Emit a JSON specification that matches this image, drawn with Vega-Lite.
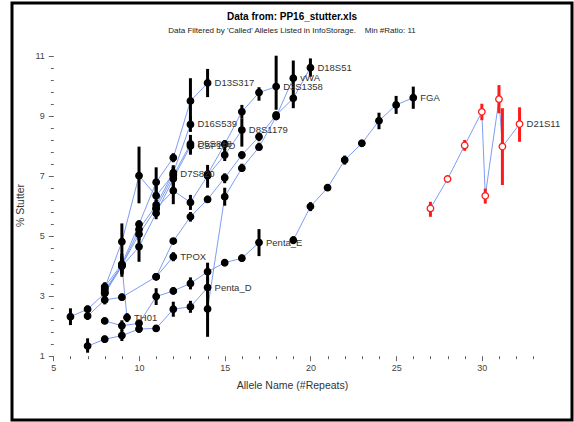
{
  "$schema": "https://vega.github.io/schema/vega-lite/v6.json",
  "width": 560,
  "height": 417,
  "autosize": {"type": "none"},
  "padding": {"left": 12, "top": 3, "right": 2, "bottom": 2},
  "background": "white",
  "config": {
    "view": {"stroke": "black", "strokeWidth": 3},
    "font": "Liberation Sans",
    "axis": {"labelFont": "Liberation Sans", "titleFont": "Liberation Sans"}
  },
  "title": {
    "text": "Data from: PP16_stutter.xls",
    "subtitle": "Data Filtered by 'Called' Alleles Listed in InfoStorage.\u00a0\u00a0\u00a0\u00a0Min #Ratio: 11",
    "fontSize": 10,
    "fontWeight": "bold",
    "color": "black",
    "subtitleFontSize": 8,
    "subtitleColor": "#222",
    "subtitlePadding": 5,
    "offset": -32,
    "anchor": "middle",
    "frame": "group"
  },
  "datasets": {
    "stutter": [
      {"l": "TH01", "a": 6, "s": 2.3, "lo": 2.02, "hi": 2.58},
      {"l": "TH01", "a": 7, "s": 2.55, "lo": 2.43, "hi": 2.67},
      {"l": "TH01", "a": 8, "s": 3.08, "lo": 2.98, "hi": 3.18},
      {"l": "TH01", "a": 9, "s": 4.02, "lo": 3.72, "hi": 4.32},
      {"l": "TH01", "a": 9.3, "s": 2.27, "lo": 2.12, "hi": 2.42},
      {"l": "TPOX", "a": 7, "s": 2.32, "lo": 2.2, "hi": 2.44},
      {"l": "TPOX", "a": 8, "s": 2.86, "lo": 2.71, "hi": 3.01},
      {"l": "TPOX", "a": 9, "s": 2.95, "lo": 2.83, "hi": 3.07},
      {"l": "TPOX", "a": 11, "s": 3.63, "lo": 3.63, "hi": 3.63},
      {"l": "TPOX", "a": 12, "s": 4.3, "lo": 4.15, "hi": 4.45},
      {"l": "Penta_D", "a": 7, "s": 1.32, "lo": 1.1, "hi": 1.58},
      {"l": "Penta_D", "a": 8, "s": 1.55, "lo": 1.43, "hi": 1.67},
      {"l": "Penta_D", "a": 9, "s": 1.67, "lo": 1.49, "hi": 1.85},
      {"l": "Penta_D", "a": 10, "s": 1.89, "lo": 1.76, "hi": 2.02},
      {"l": "Penta_D", "a": 11, "s": 1.91, "lo": 1.81, "hi": 2.01},
      {"l": "Penta_D", "a": 12, "s": 2.55, "lo": 2.3, "hi": 2.8},
      {"l": "Penta_D", "a": 13, "s": 2.63, "lo": 2.43, "hi": 2.83},
      {"l": "Penta_D", "a": 14, "s": 3.27, "lo": 2.95, "hi": 3.6},
      {"l": "Penta_E", "a": 8, "s": 2.16, "lo": 2.16, "hi": 2.16},
      {"l": "Penta_E", "a": 9, "s": 2.0, "lo": 1.82, "hi": 2.18},
      {"l": "Penta_E", "a": 10, "s": 2.08, "lo": 1.96, "hi": 2.2},
      {"l": "Penta_E", "a": 11, "s": 2.97, "lo": 2.69, "hi": 3.25},
      {"l": "Penta_E", "a": 12, "s": 3.16, "lo": 3.04, "hi": 3.28},
      {"l": "Penta_E", "a": 13, "s": 3.41, "lo": 3.21, "hi": 3.61},
      {"l": "Penta_E", "a": 14, "s": 3.8, "lo": 3.5, "hi": 4.1},
      {"l": "Penta_E", "a": 15, "s": 4.1, "lo": 3.98, "hi": 4.22},
      {"l": "Penta_E", "a": 16, "s": 4.25, "lo": 4.13, "hi": 4.37},
      {"l": "Penta_E", "a": 17, "s": 4.77, "lo": 4.32, "hi": 5.22},
      {"l": "D13S317", "a": 8, "s": 3.3, "lo": 3.15, "hi": 3.45},
      {"l": "D13S317", "a": 9, "s": 4.05, "lo": 3.63, "hi": 4.4},
      {"l": "D13S317", "a": 10, "s": 5.38, "lo": 5.24, "hi": 5.52},
      {"l": "D13S317", "a": 11, "s": 6.78, "lo": 6.3, "hi": 7.28},
      {"l": "D13S317", "a": 12, "s": 7.6, "lo": 7.45, "hi": 7.75},
      {"l": "D13S317", "a": 13, "s": 9.49, "lo": 8.59, "hi": 10.25},
      {"l": "D13S317", "a": 14, "s": 10.09, "lo": 9.62, "hi": 10.56},
      {"l": "D16S539", "a": 8, "s": 3.19, "lo": 3.05, "hi": 3.33},
      {"l": "D16S539", "a": 9, "s": 4.0, "lo": 3.75, "hi": 4.25},
      {"l": "D16S539", "a": 10, "s": 5.21, "lo": 5.08, "hi": 5.34},
      {"l": "D16S539", "a": 11, "s": 6.02, "lo": 5.85, "hi": 6.19},
      {"l": "D16S539", "a": 12, "s": 7.1, "lo": 6.85, "hi": 7.35},
      {"l": "D16S539", "a": 13, "s": 8.71, "lo": 8.46, "hi": 8.96},
      {"l": "D5S818", "a": 8, "s": 3.12, "lo": 3.02, "hi": 3.22},
      {"l": "D5S818", "a": 9, "s": 4.02, "lo": 3.75, "hi": 4.3},
      {"l": "D5S818", "a": 10, "s": 5.05, "lo": 4.85, "hi": 5.25},
      {"l": "D5S818", "a": 11, "s": 5.91, "lo": 5.71, "hi": 6.11},
      {"l": "D5S818", "a": 12, "s": 7.0, "lo": 6.7, "hi": 7.3},
      {"l": "D5S818", "a": 13, "s": 8.06, "lo": 7.76, "hi": 8.36},
      {"l": "CSF1PO", "a": 8, "s": 3.08, "lo": 2.98, "hi": 3.18},
      {"l": "CSF1PO", "a": 9, "s": 3.98, "lo": 3.7, "hi": 4.26},
      {"l": "CSF1PO", "a": 10, "s": 4.63, "lo": 4.13, "hi": 5.1},
      {"l": "CSF1PO", "a": 11, "s": 5.75, "lo": 5.55, "hi": 5.95},
      {"l": "CSF1PO", "a": 12, "s": 6.9, "lo": 6.6, "hi": 7.2},
      {"l": "CSF1PO", "a": 13, "s": 7.99, "lo": 7.7, "hi": 8.25},
      {"l": "D7S820", "a": 8, "s": 3.25, "lo": 3.1, "hi": 3.4},
      {"l": "D7S820", "a": 9, "s": 4.8, "lo": 4.3, "hi": 5.41},
      {"l": "D7S820", "a": 10, "s": 7.0, "lo": 6.08, "hi": 7.97},
      {"l": "D7S820", "a": 11, "s": 6.33, "lo": 6.0, "hi": 6.66},
      {"l": "D7S820", "a": 12, "s": 7.05, "lo": 6.8, "hi": 7.3},
      {"l": "D8S1179", "a": 11, "s": 5.91, "lo": 5.75, "hi": 6.07},
      {"l": "D8S1179", "a": 12, "s": 6.5, "lo": 6.05, "hi": 6.9},
      {"l": "D8S1179", "a": 13, "s": 6.11, "lo": 5.86, "hi": 6.36},
      {"l": "D8S1179", "a": 14, "s": 7.0, "lo": 6.88, "hi": 7.12},
      {"l": "D8S1179", "a": 15, "s": 7.69, "lo": 7.49, "hi": 7.89},
      {"l": "D8S1179", "a": 16, "s": 8.52, "lo": 7.97, "hi": 8.9},
      {"l": "D3S1358", "a": 14, "s": 7.05, "lo": 6.6, "hi": 7.36},
      {"l": "D3S1358", "a": 15, "s": 8.05, "lo": 7.85, "hi": 8.19},
      {"l": "D3S1358", "a": 16, "s": 9.13, "lo": 8.9, "hi": 9.36},
      {"l": "D3S1358", "a": 17, "s": 9.77, "lo": 9.5, "hi": 9.95},
      {"l": "D3S1358", "a": 18, "s": 9.97, "lo": 9.2, "hi": 11.0},
      {"l": "D18S51", "a": 11, "s": 3.63, "lo": 3.63, "hi": 3.63},
      {"l": "D18S51", "a": 12, "s": 4.82, "lo": 4.82, "hi": 4.82},
      {"l": "D18S51", "a": 13, "s": 5.63, "lo": 5.47, "hi": 5.79},
      {"l": "D18S51", "a": 14, "s": 6.21, "lo": 6.09, "hi": 6.33},
      {"l": "D18S51", "a": 15, "s": 6.93, "lo": 6.75, "hi": 7.08},
      {"l": "D18S51", "a": 16, "s": 7.69, "lo": 7.55, "hi": 7.8},
      {"l": "D18S51", "a": 17, "s": 8.3, "lo": 8.15, "hi": 8.41},
      {"l": "D18S51", "a": 18, "s": 9.02, "lo": 8.9, "hi": 9.14},
      {"l": "D18S51", "a": 19, "s": 9.58, "lo": 9.25, "hi": 9.95},
      {"l": "D18S51", "a": 20, "s": 10.6, "lo": 10.3, "hi": 10.91},
      {"l": "vWA", "a": 14, "s": 2.56, "lo": 1.63, "hi": 3.3},
      {"l": "vWA", "a": 15, "s": 6.3, "lo": 6.0, "hi": 6.6},
      {"l": "vWA", "a": 16, "s": 7.25, "lo": 7.13, "hi": 7.4},
      {"l": "vWA", "a": 17, "s": 7.95, "lo": 7.86, "hi": 8.1},
      {"l": "vWA", "a": 18, "s": 8.97, "lo": 8.91, "hi": 9.05},
      {"l": "vWA", "a": 19, "s": 10.25, "lo": 9.95, "hi": 10.84},
      {"l": "FGA", "a": 19, "s": 4.85, "lo": 4.72, "hi": 4.98},
      {"l": "FGA", "a": 20, "s": 5.97, "lo": 5.82, "hi": 6.12},
      {"l": "FGA", "a": 21, "s": 6.6, "lo": 6.52, "hi": 6.68},
      {"l": "FGA", "a": 22, "s": 7.52, "lo": 7.37, "hi": 7.67},
      {"l": "FGA", "a": 23, "s": 8.08, "lo": 7.96, "hi": 8.2},
      {"l": "FGA", "a": 24, "s": 8.83, "lo": 8.55, "hi": 9.1},
      {"l": "FGA", "a": 25, "s": 9.36, "lo": 9.06, "hi": 9.66},
      {"l": "FGA", "a": 26, "s": 9.6, "lo": 9.23, "hi": 9.97},
      {"l": "D21S11", "a": 27, "s": 5.91, "lo": 5.63, "hi": 6.13},
      {"l": "D21S11", "a": 28, "s": 6.89, "lo": 6.79, "hi": 6.99},
      {"l": "D21S11", "a": 29, "s": 8.01, "lo": 7.83, "hi": 8.19},
      {"l": "D21S11", "a": 30, "s": 9.13, "lo": 8.85, "hi": 9.4},
      {"l": "D21S11", "a": 30.2, "s": 6.33, "lo": 6.07, "hi": 6.57},
      {"l": "D21S11", "a": 31, "s": 9.55, "lo": 9.08, "hi": 10.02},
      {"l": "D21S11", "a": 31.2, "s": 7.97, "lo": 6.69, "hi": 9.25},
      {"l": "D21S11", "a": 32.2, "s": 8.72, "lo": 8.13, "hi": 9.28}
    ]
  },
  "layer": [
    {
      "mark": {"type": "rule", "color": "#dcdde8", "strokeWidth": 1},
      "encoding": {"y": {"datum": 12.167, "type": "quantitative", "scale": {"domain": [-1.143, 12.757], "nice": false, "zero": false}}}
    },
    {
      "mark": {"type": "rule", "color": "#dcdde8", "strokeWidth": 1},
      "encoding": {"y": {"datum": 11.447, "type": "quantitative", "scale": {"domain": [-1.143, 12.757], "nice": false, "zero": false}}}
    },
    {
      "mark": {"type": "rule", "color": "#dcdde8", "strokeWidth": 1},
      "encoding": {"y": {"datum": -0.453, "type": "quantitative", "scale": {"domain": [-1.143, 12.757], "nice": false, "zero": false}}}
    },
    {
      "mark": {"type": "rule", "color": "#666", "strokeWidth": 1},
      "encoding": {
        "x": {"datum": 5, "type": "quantitative", "scale": {"domain": [2.59, 35.26], "nice": false, "zero": false}},
        "x2": {"datum": 33.1},
        "y": {"datum": 1, "type": "quantitative", "scale": {"domain": [-1.143, 12.757], "nice": false, "zero": false}}
      }
    },
    {
      "mark": {"type": "rule", "color": "#666", "strokeWidth": 1},
      "encoding": {
        "x": {"datum": 5, "type": "quantitative", "scale": {"domain": [2.59, 35.26], "nice": false, "zero": false}},
        "y": {"datum": 1, "type": "quantitative", "scale": {"domain": [-1.143, 12.757], "nice": false, "zero": false}},
        "y2": {"datum": 11}
      }
    },
    {
      "data": {"name": "stutter"},
      "mark": {"type": "line", "color": "#7f9ef3", "strokeWidth": 1},
      "encoding": {
        "x": {
          "field": "a", "type": "quantitative",
          "scale": {"domain": [2.59, 35.26], "nice": false, "zero": false},
          "axis": {
            "values": [5,6,7,8,9,10,11,12,13,14,15,16,17,18,19,20,21,22,23,24,25,26,27,28,29,30,31,32,33],
            "tickCount": 200,
            "labelExpr": "datum.value % 5 == 0 ? '' + round(datum.value) : ''",
            "offset": -64.3,
            "domain": false,
            "grid": false,
            "tickColor": "#666",
            "tickSize": {"condition": {"test": "datum.value % 5 == 0", "value": 5}, "value": 3},
            "labelFontSize": 9,
            "labelColor": "#444",
            "labelPadding": 3,
            "labelOverlap": false,
            "labelFlush": false,
            "labelBound": false,
            "title": "Allele Name (#Repeats)",
            "titleFontSize": 10.5,
            "titleFontWeight": "normal",
            "titleColor": "#333",
            "titlePadding": 8
          }
        },
        "y": {
          "field": "s", "type": "quantitative",
          "scale": {"domain": [-1.143, 12.757], "nice": false, "zero": false},
          "axis": {
            "values": [1,1.4,1.8,2.2,2.6,3,3.4,3.8,4.2,4.6,5,5.4,5.8,6.2,6.6,7,7.4,7.8,8.2,8.6,9,9.4,9.8,10.2,10.6,11],
            "tickCount": 200,
            "labelExpr": "abs(datum.value - 2*floor(datum.value/2) - 1) < 0.01 ? '' + round(datum.value) : ''",
            "offset": -41.3,
            "domain": false,
            "grid": false,
            "tickColor": "#666",
            "tickSize": {"condition": {"test": "abs(datum.value - 2*floor(datum.value/2) - 1) < 0.01", "value": 5}, "value": 3},
            "labelFontSize": 9,
            "labelColor": "#444",
            "labelPadding": 4,
            "labelOverlap": false,
            "labelFlush": false,
            "labelBound": false,
            "title": "% Stutter",
            "titleFontSize": 10.5,
            "titleFontWeight": "normal",
            "titleColor": "#333",
            "titlePadding": 9,
            "titleY": 202
          }
        },
        "detail": {"field": "l"}
      }
    },
    {
      "data": {"name": "stutter"},
      "mark": {"type": "rule", "strokeWidth": 3},
      "encoding": {
        "x": {"field": "a", "type": "quantitative", "scale": {"domain": [2.59, 35.26], "nice": false, "zero": false}},
        "y": {"field": "lo", "type": "quantitative", "scale": {"domain": [-1.143, 12.757], "nice": false, "zero": false}},
        "y2": {"field": "hi"},
        "color": {"condition": {"test": "datum.l === 'D21S11'", "value": "#ff1a1a"}, "value": "black"}
      }
    },
    {
      "data": {"name": "stutter"},
      "mark": {"type": "point", "shape": "circle", "size": 42, "filled": true, "strokeWidth": 1.3, "opacity": 1},
      "encoding": {
        "x": {"field": "a", "type": "quantitative", "scale": {"domain": [2.59, 35.26], "nice": false, "zero": false}},
        "y": {"field": "s", "type": "quantitative", "scale": {"domain": [-1.143, 12.757], "nice": false, "zero": false}},
        "fill": {"condition": {"test": "datum.l === 'D21S11'", "value": "white"}, "value": "black"},
        "stroke": {"condition": {"test": "datum.l === 'D21S11'", "value": "#ff1a1a"}, "value": "black"}
      }
    },
    {
      "data": {"name": "stutter"},
      "transform": [
        {"joinaggregate": [{"op": "max", "field": "a", "as": "maxa"}], "groupby": ["l"]},
        {"filter": "datum.a === datum.maxa"}
      ],
      "mark": {"type": "text", "align": "left", "baseline": "middle", "dx": 7, "fontSize": 9.5, "color": "#333", "font": "Liberation Sans"},
      "encoding": {
        "x": {"field": "a", "type": "quantitative", "scale": {"domain": [2.59, 35.26], "nice": false, "zero": false}},
        "y": {"field": "s", "type": "quantitative", "scale": {"domain": [-1.143, 12.757], "nice": false, "zero": false}},
        "text": {"field": "l"}
      }
    },
    {
      "mark": {"type": "rule", "color": "black", "strokeWidth": 2.5},
      "encoding": {
        "x": {"datum": 29.12, "type": "quantitative", "scale": {"domain": [2.59, 35.26], "nice": false, "zero": false}},
        "y": {"datum": 5.357, "type": "quantitative", "scale": {"domain": [-1.143, 12.757], "nice": false, "zero": false}},
        "x2": {"datum": 29.74},
        "y2": {"datum": 5.8}
      }
    },
    {
      "mark": {"type": "point", "shape": "triangle-up", "filled": true, "color": "black", "size": 55, "angle": 38.5, "opacity": 1},
      "encoding": {
        "x": {"datum": 29.76, "type": "quantitative", "scale": {"domain": [2.59, 35.26], "nice": false, "zero": false}},
        "y": {"datum": 5.8, "type": "quantitative", "scale": {"domain": [-1.143, 12.757], "nice": false, "zero": false}}
      }
    },
    {
      "mark": {"type": "text", "text": "30.2", "fontSize": 13, "font": "Open Sans", "color": "#111", "align": "center", "baseline": "middle"},
      "encoding": {
        "x": {"datum": 29.02, "type": "quantitative", "scale": {"domain": [2.59, 35.26], "nice": false, "zero": false}},
        "y": {"datum": 4.757, "type": "quantitative", "scale": {"domain": [-1.143, 12.757], "nice": false, "zero": false}}
      }
    }
  ]
}
